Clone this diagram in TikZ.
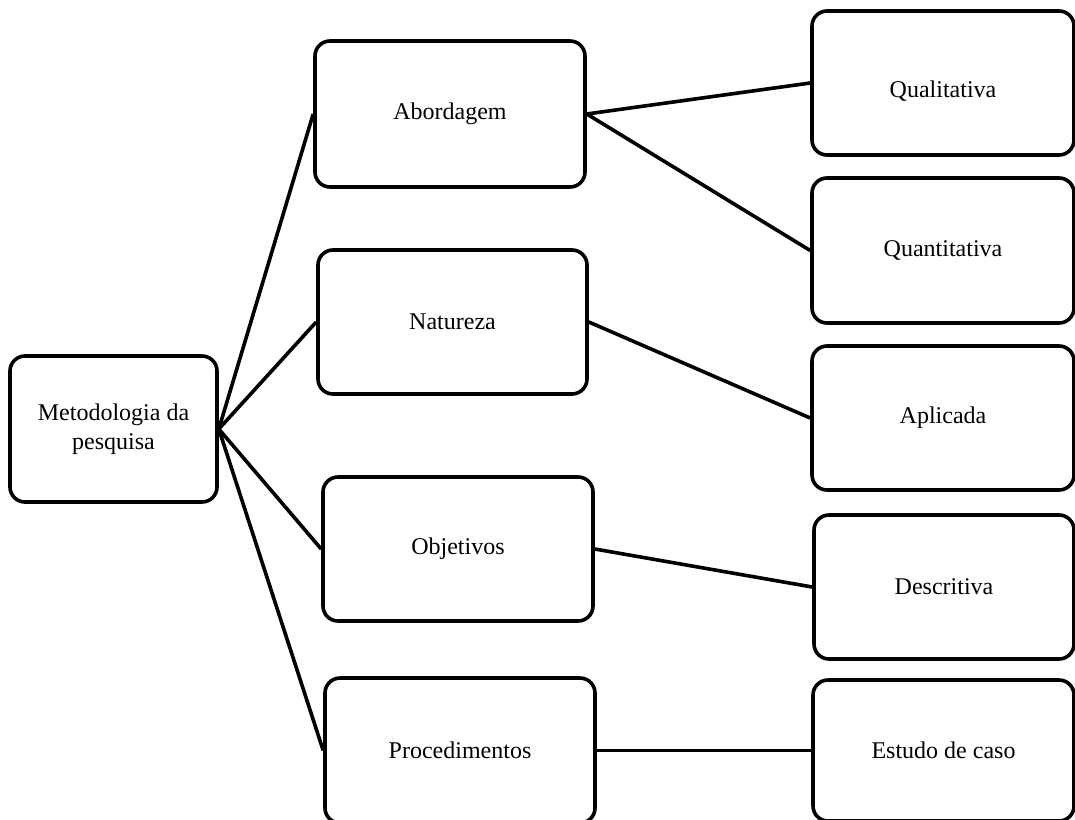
\documentclass[tikz,border=0pt]{standalone}
\usepackage{fontspec}
\setmainfont{Liberation Serif}
\begin{document}
\begin{tikzpicture}[x=1pt,y=-1pt,
  box/.style={draw=black,line width=3.6pt,rounded corners=15pt,fill=white,
    inner sep=0pt,align=center,font=\fontsize{24}{29}\selectfont},
  conn/.style={line width=3.6pt}]
\useasboundingbox (0,0) rectangle (1075,819);
\clip (0,0) rectangle (1075,819);
\node[box,minimum width=207pt,minimum height=146pt] (root) at (113.5,429) {Metodologia da\\pesquisa};
\node[box,minimum width=270pt,minimum height=146pt] (abo) at (450,114) {Abordagem};
\node[box,minimum width=269pt,minimum height=144pt] (nat) at (452.5,322) {Natureza};
\node[box,minimum width=270pt,minimum height=144pt] (obj) at (458,549) {Objetivos};
\node[box,minimum width=270pt,minimum height=145pt] (pro) at (460,750.5) {Procedimentos};
\node[box,minimum width=262pt,minimum height=144pt] (qual) at (943,83) {\raisebox{-8pt}[\height][\depth]{Qualitativa}};
\node[box,minimum width=262pt,minimum height=145pt] (quan) at (943,250.5) {Quantitativa};
\node[box,minimum width=262pt,minimum height=144pt] (apl) at (943,418) {Aplicada};
\node[box,minimum width=260pt,minimum height=144pt] (desc) at (944,587) {Descritiva};
\node[box,minimum width=261pt,minimum height=141pt] (est) at (943.5,750.5) {Estudo de caso};
\draw[conn] (root.east) -- (abo.west);
\draw[conn] (root.east) -- (nat.west);
\draw[conn] (root.east) -- (obj.west);
\draw[conn] (root.east) -- (pro.west);
\draw[conn] (abo.east) -- (qual.west);
\draw[conn] (abo.east) -- (quan.west);
\draw[conn] (nat.east) -- (apl.west);
\draw[conn] (obj.east) -- (desc.west);
\draw[conn] (pro.east) -- (est.west);
\end{tikzpicture}
\end{document}
